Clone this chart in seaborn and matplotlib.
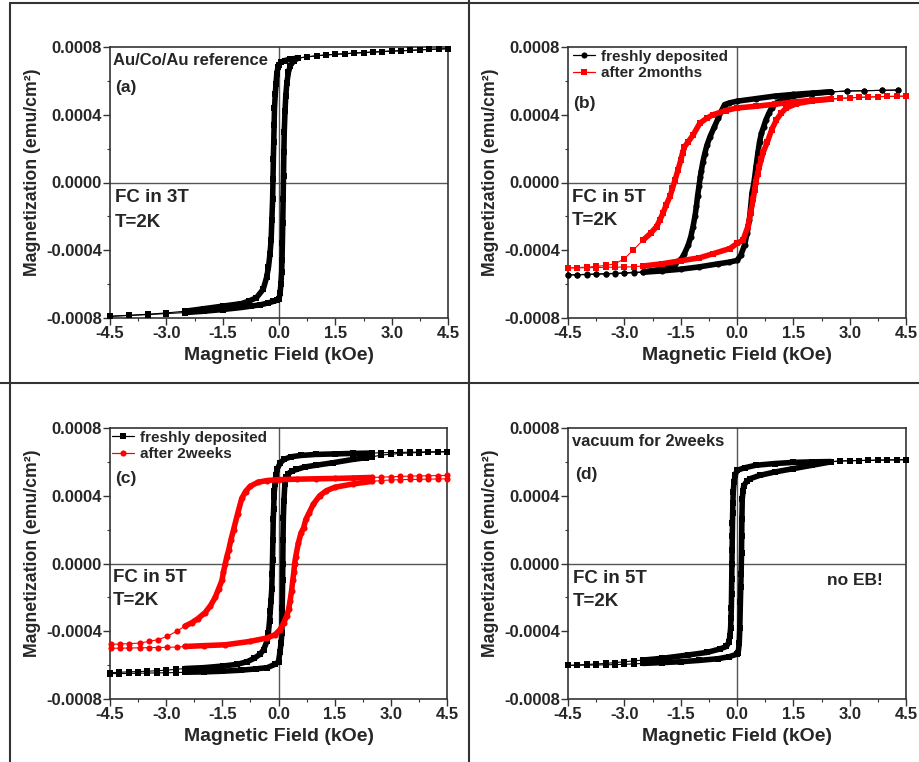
"""plot.py - magnetic hysteresis loops, four panels"""
import matplotlib
matplotlib.use("Agg")
import matplotlib.pyplot as plt
from matplotlib.lines import Line2D
from matplotlib.ticker import FormatStrFormatter, MultipleLocator
import pandas as pd
import seaborn as sns

# field in kOe, magnetization in units of 1e-4 emu/cm^2
# (a) Au/Co/Au reference
a_down_h = [4.5, 4.25, 4.0, 3.75, 3.5, 3.25, 3.0, 2.75, 2.5, 2.25, 2.0, 1.75, 1.5, 1.25, 1.0, 0.75, 0.5,
            0.3, 0.15, 0.05, 0.0, -0.03, -0.06, -0.08, -0.1, -0.12, -0.13, -0.14, -0.15, -0.16,
            -0.17, -0.19, -0.21, -0.24, -0.28, -0.33, -0.42, -0.6, -0.8, -1.0, -1.5, -2.0, -2.5,
            -3.0, -3.5, -4.0, -4.5]
a_down_m = [7.9, 7.88, 7.86, 7.83, 7.8, 7.78, 7.76, 7.73, 7.7, 7.67, 7.64, 7.6, 7.57, 7.53, 7.48, 7.42, 7.35,
            7.28, 7.2, 7.1, 6.95, 6.8, 6.4, 5.8, 5.2, 4.4, 3.4, 2.4, 1.4, 0.2,
            -1.0, -2.2, -3.4, -4.2, -5.0, -5.6, -6.3, -6.8, -7.0, -7.15, -7.3, -7.45, -7.6,
            -7.7, -7.78, -7.84, -7.9]
a_up_h = [-4.5, -4.0, -3.5, -3.0, -2.5, -2.0, -1.5, -1.0, -0.75, -0.5, -0.3, -0.15, -0.05, 0.0,
          0.03, 0.05, 0.07, 0.08, 0.09, 0.1, 0.11, 0.12, 0.13, 0.14, 0.16, 0.18, 0.21, 0.25, 0.3, 0.4, 0.5,
          0.75, 1.0, 1.25, 1.5, 1.75, 2.0, 2.25, 2.5, 2.75, 3.0, 3.25, 3.5, 3.75, 4.0, 4.25, 4.5]
a_up_m = [-7.9, -7.85, -7.8, -7.74, -7.68, -7.6, -7.5, -7.38, -7.3, -7.22, -7.12, -7.02, -6.95, -6.9,
          -6.5, -6.0, -5.3, -4.6, -3.6, -2.4, -1.0, 0.4, 1.8, 3.0, 4.2, 5.1, 5.9, 6.5, 6.9, 7.2, 7.33,
          7.42, 7.48, 7.53, 7.57, 7.6, 7.64, 7.67, 7.7, 7.73, 7.76, 7.78, 7.8, 7.83, 7.86, 7.88, 7.9]

# (b) freshly deposited
b1_down_h = [4.29, 3.85, 3.39, 2.92, 2.5, 2.0, 1.5, 1.0, 0.5, 0.0, -0.2, -0.33, -0.42, -0.5, -0.6,
             -0.72, -0.8, -0.86, -0.91, -0.95, -0.98, -1.01, -1.05, -1.08, -1.12, -1.17, -1.23, -1.3,
             -1.4, -1.48, -1.65, -1.85, -2.1, -2.5, -2.75, -3.0, -3.25, -3.5, -3.75, -4.0, -4.25, -4.5]
b1_down_m = [5.46, 5.44, 5.42, 5.4, 5.35, 5.28, 5.2, 5.1, 4.95, 4.8, 4.7, 4.6, 4.2, 3.8, 3.3,
             2.7, 2.2, 1.7, 1.2, 0.7, 0.3, -0.2, -0.8, -1.4, -2.0, -2.6, -3.2, -3.7,
             -4.2, -4.5, -4.8, -5.0, -5.15, -5.28, -5.3, -5.33, -5.36, -5.38, -5.4, -5.42, -5.44, -5.46]
b1_up_h = [-4.5, -4.25, -4.0, -3.75, -3.5, -3.25, -3.0, -2.75, -2.5, -2.0, -1.5, -1.0, -0.5, -0.2,
           0.0, 0.1, 0.2, 0.27, 0.33, 0.37, 0.4, 0.44, 0.47, 0.51, 0.56, 0.6, 0.65, 0.71, 0.77, 0.85,
           0.92, 1.05, 1.2, 1.5, 2.0, 2.5, 2.92, 3.39, 3.85, 4.29]
b1_up_m = [-5.46, -5.45, -5.44, -5.42, -5.4, -5.38, -5.36, -5.33, -5.3, -5.22, -5.12, -4.98, -4.8, -4.7,
           -4.6, -4.3, -3.7, -3.0, -2.2, -1.3, -0.6, -0.15, 0.3, 1.0, 1.8, 2.4, 2.9, 3.3, 3.7, 4.1,
           4.4, 4.7, 4.9, 5.1, 5.25, 5.35, 5.4, 5.42, 5.44, 5.46]
# (b) after 2 months
b2_down_h = [4.5, 4.25, 4.0, 3.75, 3.5, 3.25, 3.0, 2.75, 2.5, 2.0, 1.5, 1.0, 0.5, 0.0, -0.3, -0.64,
             -0.8, -0.99, -1.17, -1.3, -1.4, -1.45, -1.5, -1.57, -1.65, -1.72, -1.78, -1.88, -1.97,
             -2.05, -2.14, -2.3, -2.5, -2.77, -3.0, -3.25, -3.5, -3.75, -4.0, -4.25, -4.5]
b2_down_m = [5.1, 5.09, 5.08, 5.07, 5.05, 5.03, 5.0, 4.97, 4.94, 4.85, 4.75, 4.62, 4.5, 4.4, 4.25, 4.0,
             3.8, 3.5, 2.8, 2.4, 2.1, 1.75, 1.3, 0.75, 0.15, -0.35, -0.8, -1.3, -1.8,
             -2.2, -2.6, -3.0, -3.4, -4.0, -4.5, -4.8, -4.9, -4.95, -5.0, -5.02, -5.05]
b2_up_h = [-4.5, -4.25, -4.0, -3.75, -3.5, -3.25, -3.0, -2.75, -2.5, -2.0, -1.5, -1.0, -0.63, -0.19,
           0.0, 0.16, 0.29, 0.36, 0.43, 0.47, 0.5, 0.55, 0.59, 0.65, 0.7, 0.81, 0.92, 1.05, 1.18,
           1.31, 1.58, 2.0, 2.5, 2.75, 3.0, 3.25, 3.5, 3.75, 4.0, 4.25, 4.5]
b2_up_m = [-5.05, -5.04, -5.03, -5.02, -5.01, -5.0, -4.99, -4.97, -4.93, -4.8, -4.62, -4.45, -4.2, -3.9,
           -3.6, -3.4, -2.6, -1.8, -1.0, -0.45, 0.05, 0.5, 0.9, 1.4, 1.8, 2.4, 3.1, 3.7, 4.1,
           4.4, 4.65, 4.82, 4.92, 4.96, 5.0, 5.02, 5.04, 5.06, 5.08, 5.09, 5.1]

# (c) freshly deposited
c1_down_h = [4.5, 4.25, 4.0, 3.75, 3.5, 3.25, 3.0, 2.75, 2.5, 2.0, 1.5, 1.0, 0.6, 0.33, 0.15, 0.05,
             -0.03, -0.07, -0.09, -0.11, -0.12, -0.13, -0.14, -0.15, -0.16, -0.17, -0.18, -0.2,
             -0.22, -0.24, -0.27, -0.31, -0.4, -0.49, -0.65, -0.84, -1.1, -1.47, -2.0, -2.5,
             -2.75, -3.0, -3.25, -3.5, -3.75, -4.0, -4.25, -4.5]
c1_down_m = [6.6, 6.6, 6.59, 6.58, 6.57, 6.56, 6.55, 6.54, 6.52, 6.5, 6.47, 6.44, 6.38, 6.3, 6.15, 5.95,
             5.6, 5.2, 4.7, 4.3, 3.9, 3.2, 2.6, 1.4, 0.2, -0.6, -1.5, -2.2,
             -2.8, -3.4, -4.1, -4.6, -5.1, -5.35, -5.6, -5.8, -5.95, -6.05, -6.15, -6.2,
             -6.25, -6.3, -6.33, -6.36, -6.38, -6.4, -6.42, -6.45]
c1_up_h = [-4.5, -4.25, -4.0, -3.75, -3.5, -3.25, -3.0, -2.75, -2.5, -2.0, -1.5, -1.0, -0.6, -0.3,
           -0.09, 0.0, 0.04, 0.07, 0.09, 0.1, 0.11, 0.115, 0.12, 0.13, 0.145, 0.17, 0.21, 0.26, 0.35,
           0.48, 0.7, 1.0, 1.46, 2.0, 2.35, 2.5, 2.75, 3.0, 3.25, 3.5, 3.75, 4.0, 4.25, 4.5]
c1_up_m = [-6.5, -6.5, -6.49, -6.48, -6.47, -6.46, -6.45, -6.44, -6.42, -6.4, -6.36, -6.3, -6.22, -6.15,
           -5.95, -5.8, -5.2, -4.7, -4.1, -2.6, -1.0, 0.0, 1.4, 2.7, 3.7, 4.7, 5.1, 5.3, 5.45,
           5.55, 5.7, 5.8, 5.95, 6.15, 6.25, 6.3, 6.4, 6.45, 6.5, 6.53, 6.55, 6.57, 6.58, 6.6]
# (c) after 2 weeks
c2_down_h = [4.5, 4.25, 4.0, 3.75, 3.5, 3.25, 3.0, 2.75, 2.5, 2.0, 1.5, 1.0, 0.5, 0.0, -0.3, -0.55,
             -0.76, -0.88, -0.98, -1.09, -1.2, -1.27, -1.33, -1.38, -1.42, -1.47, -1.51, -1.6, -1.69,
             -1.82, -1.96, -2.15, -2.32, -2.5, -2.72, -2.97, -3.22, -3.47, -3.71, -3.98, -4.22, -4.47]
c2_down_m = [5.2, 5.19, 5.18, 5.17, 5.16, 5.14, 5.12, 5.1, 5.08, 5.05, 5.02, 5.0, 4.98, 4.95, 4.9, 4.8,
             4.55, 4.25, 3.85, 2.95, 2.0, 1.4, 0.8, 0.4, 0.0, -0.5, -1.0, -1.5, -2.0,
             -2.5, -2.9, -3.25, -3.5, -3.7, -4.0, -4.3, -4.5, -4.6, -4.7, -4.73, -4.75, -4.77]
c2_up_h = [-4.47, -4.22, -3.98, -3.71, -3.47, -3.22, -2.97, -2.72, -2.5, -2.0, -1.42, -0.76, -0.31,
           -0.09, 0.04, 0.14, 0.22, 0.27, 0.31, 0.35, 0.38, 0.41, 0.43, 0.46, 0.53, 0.6, 0.67, 0.73,
           0.82, 0.93, 1.1, 1.28, 1.5, 2.0, 2.5, 2.75, 3.0, 3.25, 3.5, 3.75, 4.0, 4.25, 4.5]
c2_up_m = [-5.0, -5.0, -4.99, -4.98, -4.97, -4.96, -4.95, -4.93, -4.9, -4.85, -4.8, -4.6, -4.4,
           -4.2, -3.9, -3.5, -3.1, -2.7, -2.2, -1.6, -1.0, -0.5, 0.0, 0.4, 1.2, 1.8, 2.1, 2.6,
           3.0, 3.5, 4.0, 4.3, 4.5, 4.7, 4.85, 4.9, 4.93, 4.95, 4.96, 4.97, 4.98, 4.99, 5.0]

# (d) vacuum for 2 weeks
d_down_h = [4.5, 4.25, 4.0, 3.75, 3.5, 3.25, 3.0, 2.75, 2.5, 2.0, 1.5, 1.0, 0.5, 0.2, 0.0,
            -0.05, -0.08, -0.1, -0.11, -0.115, -0.12, -0.125, -0.13, -0.135, -0.14, -0.145, -0.15,
            -0.16, -0.17, -0.19, -0.22, -0.28, -0.46, -0.8, -1.3, -2.0, -2.5, -2.75, -3.0, -3.25,
            -3.5, -3.75, -4.0, -4.25, -4.5]
d_down_m = [6.13, 6.12, 6.11, 6.1, 6.09, 6.08, 6.07, 6.05, 6.02, 6.0, 5.97, 5.9, 5.8, 5.65, 5.5,
            5.2, 4.8, 4.2, 3.6, 3.0, 2.4, 1.6, 0.8, 0.0, -0.9, -1.8, -2.6,
            -3.2, -3.8, -4.3, -4.65, -4.9, -5.05, -5.25, -5.4, -5.6, -5.7, -5.75, -5.8, -5.85,
            -5.9, -5.93, -5.96, -5.99, -6.02]
d_up_h = [-4.5, -4.25, -4.0, -3.75, -3.5, -3.25, -3.0, -2.75, -2.5, -2.0, -1.5, -1.0, -0.5, -0.2,
          0.0, 0.03, 0.06, 0.075, 0.09, 0.1, 0.11, 0.12, 0.125, 0.13, 0.14, 0.16, 0.18, 0.26, 0.34,
          0.6, 1.0, 1.5, 2.0, 2.5, 2.75, 3.0, 3.25, 3.5, 3.75, 4.0, 4.25, 4.5]
d_up_m = [-6.02, -6.01, -6.0, -5.99, -5.98, -5.97, -5.95, -5.93, -5.9, -5.85, -5.8, -5.72, -5.62, -5.5,
          -5.35, -5.3, -4.7, -3.8, -2.3, -1.4, -0.6, 0.6, 1.6, 2.6, 3.8, 4.3, 4.6, 4.85, 5.0,
          5.2, 5.4, 5.6, 5.8, 6.0, 6.05, 6.07, 6.08, 6.09, 6.1, 6.11, 6.12, 6.13]

x_ticks = [-4.5, -3.0, -1.5, 0.0, 1.5, 3.0, 4.5]
y_ticks = [-0.0008, -0.0004, 0.0, 0.0004, 0.0008]


def loop_frame(down_h, down_m, up_h, up_m):
    down = pd.DataFrame({"H": down_h, "M": down_m, "branch": "down"})
    up = pd.DataFrame({"H": up_h, "M": up_m, "branch": "up"})
    df = pd.concat([down, up], ignore_index=True)
    df["M"] = df["M"] * 1e-4
    return df


def draw_loop(ax, df, color, marker, ms, band):
    for br in ["down", "up"]:
        d = df[df["branch"] == br]
        sns.lineplot(data=d, x="H", y="M", sort=False, estimator=None, color=color, lw=0.8,
                     marker=marker, markersize=ms, markeredgewidth=0, ax=ax, clip_on=False, zorder=3)
        core = d[(d["H"] >= band[0]) & (d["H"] <= band[1])]
        sns.lineplot(data=core, x="H", y="M", sort=False, estimator=None, color=color, lw=4.0,
                     ax=ax, zorder=3)


def style_axes(ax):
    ax.set_xlim(-4.5, 4.5)
    ax.set_ylim(-0.0008, 0.0008)
    ax.set_xticks(x_ticks)
    ax.set_yticks(y_ticks)
    ax.xaxis.set_minor_locator(MultipleLocator(0.75))
    ax.yaxis.set_minor_locator(MultipleLocator(0.0002))
    ax.xaxis.set_major_formatter(FormatStrFormatter("%.1f"))
    ax.yaxis.set_major_formatter(FormatStrFormatter("%.4f"))
    ax.tick_params(which="major", direction="out", length=5, width=1, labelsize=12, pad=0.8,
                   top=False, right=False, color="#333333")
    ax.tick_params(which="minor", direction="out", length=2.2, width=0.8, top=False, right=False,
                   color="#333333")
    for lab in ax.get_xticklabels() + ax.get_yticklabels():
        lab.set_fontweight("bold")
    for sp in ax.spines.values():
        sp.set_visible(True)
        sp.set_color("#333333")
        sp.set_linewidth(1.2)
    ax.axhline(0, color="#555555", lw=1, zorder=1)
    ax.axvline(0, color="#555555", lw=1, zorder=1)
    ax.set_xlabel("Magnetic Field (kOe)", fontsize=14, fontweight="bold", labelpad=4)
    ax.set_ylabel("Magnetization (emu/cm²)", fontsize=12.7, fontweight="bold", labelpad=4)
    # the label sits a little above the axis centre in the original
    ax.yaxis.label.set_y(0.539)


sns.set_theme(style="ticks")
plt.rcParams["font.family"] = ["Liberation Sans", "DejaVu Sans"]
plt.rcParams["font.weight"] = "bold"
plt.rcParams["axes.unicode_minus"] = False

fig = plt.figure(figsize=(9.19, 7.62), dpi=100)
W, H = 919, 762


def axes_at(left, top, right, bottom):
    return fig.add_axes([left / W, 1 - bottom / H, (right - left) / W, (bottom - top) / H])


ax_a = axes_at(110, 47, 448, 318)
ax_b = axes_at(568, 47, 906, 318)
ax_c = axes_at(110, 428, 447, 699)
ax_d = axes_at(568, 428, 906, 699)

# (a)
draw_loop(ax_a, loop_frame(a_down_h, a_down_m, a_up_h, a_up_m), "black", "s", 4.0, (-2.5, 0.5))
# (b)
draw_loop(ax_b, loop_frame(b1_down_h, b1_down_m, b1_up_h, b1_up_m), "black", "o", 4.4, (-2.5, 2.5))
draw_loop(ax_b, loop_frame(b2_down_h, b2_down_m, b2_up_h, b2_up_m), "red", "s", 4.0, (-2.5, 2.5))
# (c)
draw_loop(ax_c, loop_frame(c1_down_h, c1_down_m, c1_up_h, c1_up_m), "black", "s", 4.0, (-2.5, 2.5))
draw_loop(ax_c, loop_frame(c2_down_h, c2_down_m, c2_up_h, c2_up_m), "red", "o", 4.4, (-2.5, 2.5))
# (d)
draw_loop(ax_d, loop_frame(d_down_h, d_down_m, d_up_h, d_up_m), "black", "s", 4.0, (-2.5, 2.5))

for ax in [ax_a, ax_b, ax_c, ax_d]:
    style_axes(ax)


def note(ax, s, x, y, size):
    ax.text(x, y, s, transform=ax.transAxes, ha="left", va="center", fontsize=size,
            fontweight="bold", zorder=5)


note(ax_a, "Au/Co/Au reference", 0.009, 0.952, 12)
note(ax_a, "(a)", 0.015, 0.849, 12.5)
note(ax_a, "FC in 3T", 0.015, 0.443, 13.5)
note(ax_a, "T=2K", 0.015, 0.354, 13.5)

note(ax_b, "(b)", 0.015, 0.793, 12.5)
note(ax_b, "FC in 5T", 0.011, 0.443, 13.5)
note(ax_b, "T=2K", 0.011, 0.358, 13.5)

note(ax_c, "(c)", 0.015, 0.812, 12.5)
note(ax_c, "FC in 5T", 0.009, 0.450, 13.5)
note(ax_c, "T=2K", 0.009, 0.365, 13.5)

note(ax_d, "vacuum for 2weeks", 0.011, 0.952, 11.9)
note(ax_d, "(d)", 0.021, 0.830, 12.5)
note(ax_d, "FC in 5T", 0.015, 0.443, 13.5)
note(ax_d, "T=2K", 0.015, 0.358, 13.5)
ax_d.text(0.849, 0.439, "no EB!", transform=ax_d.transAxes, ha="center", va="center",
          fontsize=12.5, fontweight="bold")


def legend(ax, entries, x0):
    handles = [Line2D([], [], color=c, marker=mk, lw=0.9, markersize=4.4, markeredgewidth=0)
               for c, mk, _ in entries]
    labels = [t for _, _, t in entries]
    leg = ax.legend(handles, labels, loc="upper left", bbox_to_anchor=(x0, 0.99), frameon=False,
                    fontsize=11, handlelength=1.45, handletextpad=0.35, borderpad=0,
                    borderaxespad=0, labelspacing=0.15)
    for t in leg.get_texts():
        t.set_fontweight("bold")


legend(ax_b, [("black", "o", "freshly deposited"), ("red", "s", "after 2months")], 0.015)
legend(ax_c, [("black", "s", "freshly deposited"), ("red", "o", "after 2weeks")], 0.006)

# panel separators
line_kw = dict(transform=fig.transFigure, color="#333333", lw=1.5)
fig.add_artist(Line2D([469 / W, 469 / W], [0, 1], **line_kw))
fig.add_artist(Line2D([0, 1], [1 - 383 / H, 1 - 383 / H], **line_kw))
fig.add_artist(Line2D([10 / W, 1], [1 - 2.5 / H, 1 - 2.5 / H], **line_kw))
fig.add_artist(Line2D([10 / W, 10 / W], [0, 1 - 2.5 / H], **line_kw))

fig.savefig("out.png", dpi=100, facecolor="white")
